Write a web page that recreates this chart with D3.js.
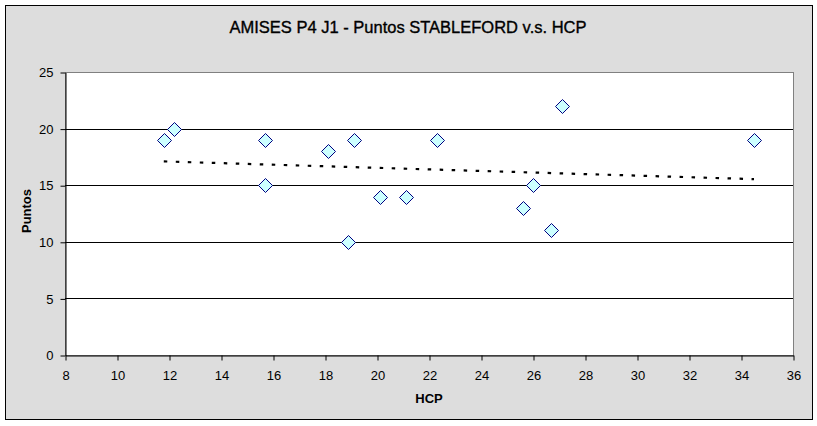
<!DOCTYPE html>
<html><head><meta charset="utf-8">
<script src="https://cdn.jsdelivr.net/npm/d3@7"></script>
<style>body{margin:0;background:#fff}svg{display:block}text{font-family:"Liberation Sans",Arial,sans-serif}</style>
</head><body>
<svg id="c" width="817" height="426"></svg>
<script>
const title = "AMISES P4 J1 - Puntos STABLEFORD v.s. HCP";
const xLabel = "HCP";
const yLabel = "Puntos";
const hcp    = [11.8, 12.2, 15.7, 15.7, 18.1, 18.9, 19.1, 20.1, 21.1, 22.3, 25.6, 26.0, 26.7, 27.1, 34.5];
const puntos = [19,   20,   19,   15,   18,   10,   19,   14,   14,   19,   13,   15,   11,   22,   19];
const xTicks = [8,10,12,14,16,18,20,22,24,26,28,30,32,34,36];
const yTicks = [0,5,10,15,20,25];

const svg = d3.select("#c");
svg.append("rect").attr("x",5.5).attr("y",5.5).attr("width",807).attr("height",414)
  .attr("fill","#dddddd").attr("stroke","#000").attr("stroke-width",1);

const L=65, R=793, T=72, B=355;
const x = d3.scaleLinear().domain([8,36]).range([L,R]);
const y = d3.scaleLinear().domain([0,25]).range([B,T]);

svg.append("rect").attr("x",L).attr("y",T).attr("width",R-L).attr("height",B-T)
  .attr("fill","#fff").attr("stroke","#808080").attr("stroke-width",1)
  .attr("transform","translate(0.5,0.5)");

// gridlines
svg.append("g").selectAll("line").data(yTicks.filter(d=>d>0 && d<25)).join("line")
  .attr("x1",L).attr("x2",R).attr("y1",d=>Math.round(y(d))+0.5).attr("y2",d=>Math.round(y(d))+0.5)
  .attr("stroke","#000").attr("stroke-width",1);

const fmt = d=>String(d);
const gx = svg.append("g").attr("transform",`translate(0.5,${B+0.5})`)
  .call(d3.axisBottom(x).tickValues(xTicks).tickFormat(fmt).tickSize(5).tickSizeOuter(0).tickPadding(10.5));
const gy = svg.append("g").attr("transform",`translate(${L+0.5},0.5)`)
  .call(d3.axisLeft(y).tickValues(yTicks).tickFormat(fmt).tickSize(5).tickSizeOuter(0).tickPadding(7));
[gx,gy].forEach(g=>{
  g.select(".domain").attr("stroke","#000");
  g.selectAll(".tick line").attr("stroke","#000");
  g.selectAll("text").attr("fill","#000").style("font-size","13px").style("font-family","'Liberation Sans',Arial,sans-serif");
});

// trend line (least squares)
const mx = d3.mean(hcp), my = d3.mean(puntos);
const slope = d3.sum(hcp.map((v,i)=>(v-mx)*(puntos[i]-my))) / d3.sum(hcp.map(v=>(v-mx)*(v-mx)));
const icpt = my - slope*mx;
const x0 = d3.min(hcp), x1 = d3.max(hcp);
svg.append("line").attr("x1",x(x0)).attr("y1",y(icpt+slope*x0)).attr("x2",x(x1)).attr("y2",y(icpt+slope*x1))
  .attr("stroke","#000").attr("stroke-width",2.2).attr("stroke-dasharray","3.5,8.5");

// markers
const diamond = "M0,-7L7,0L0,7L-7,0Z";
svg.append("g").selectAll("path").data(hcp.map((v,i)=>[v,puntos[i]])).join("path")
  .attr("d",diamond).attr("transform",d=>`translate(${Math.round(x(d[0]))+0.5},${Math.round(y(d[1]))+0.5})`)
  .attr("fill","#ccffff").attr("stroke","#000080").attr("stroke-width",1);

svg.append("text").attr("x",408).attr("y",33).attr("text-anchor","middle")
  .style("font-size","16.5px").attr("stroke","#000").attr("stroke-width",0.35).text(title);
svg.append("text").attr("x",429).attr("y",403).attr("text-anchor","middle")
  .style("font-size","13px").style("font-weight","bold").text(xLabel);
svg.append("text").attr("transform","translate(31,211) rotate(-90)").attr("text-anchor","middle")
  .style("font-size","13px").style("font-weight","bold").text(yLabel);
</script>
</body></html>
